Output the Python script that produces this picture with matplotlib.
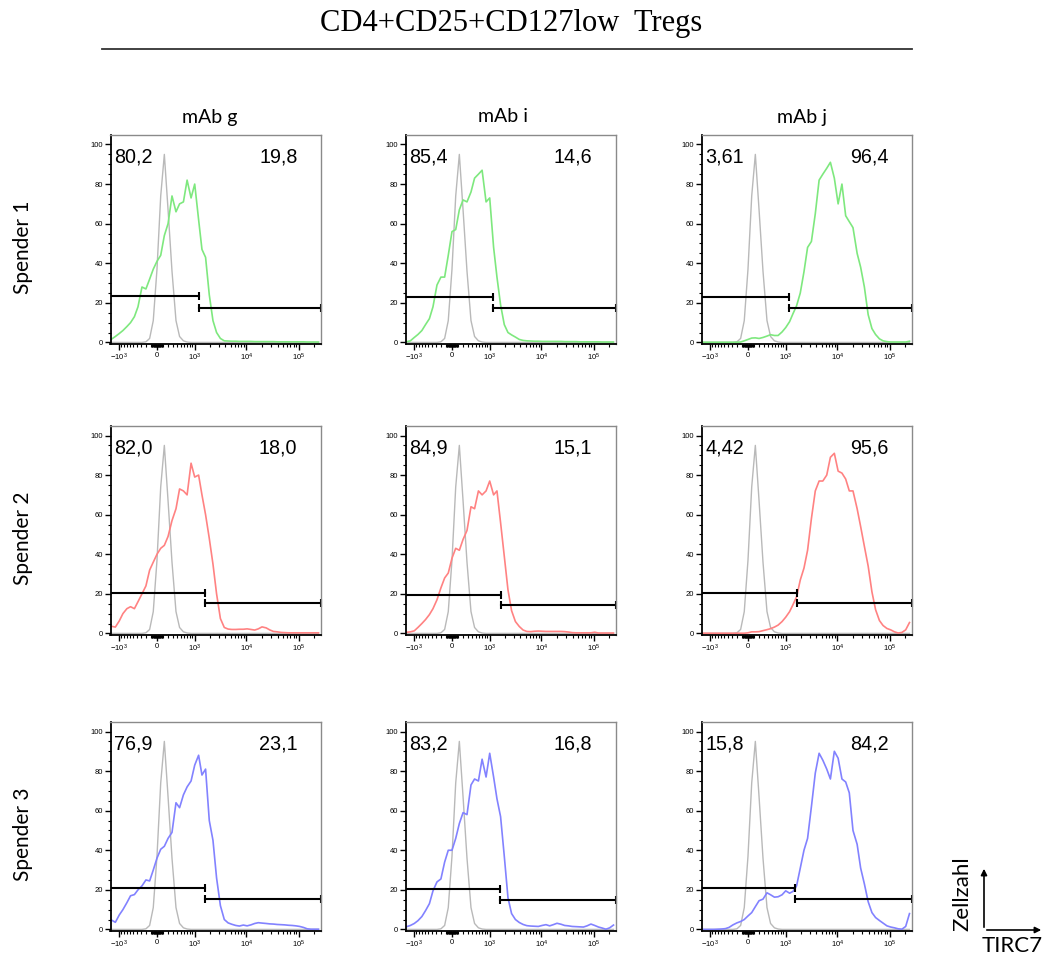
import numpy as np
import matplotlib.pyplot as plt
from matplotlib.lines import Line2D
from matplotlib.patches import FancyArrowPatch
from matplotlib.ticker import FixedLocator, NullFormatter

plt.rcParams['font.family'] = ['Liberation Sans', 'DejaVu Sans']
plt.rcParams['mathtext.default'] = 'regular'

# Histogramm-Kanäle (TIRC7-Fluoreszenz)
bins = [-1500, -1200, -1000, -840, -690, -570, -460, -370, -280, -200, -130, -65,
        0, 65, 130, 200, 280, 370, 460, 570, 690, 840, 1000,
        1200, 1400, 1650, 1950, 2300, 2700, 3200, 3800, 4500, 5300, 6300, 7400,
        8800, 10400, 12300, 14500, 17000, 20000, 24000, 28000, 33000, 39000,
        46000, 54000, 64000, 75000, 89000, 105000, 124000, 146000, 172000,
        203000, 240000]

# Isotypkontrolle (grau)
isotype = [0, 0, 0, 0, 0, 0, 0, 0, 0, 0.3, 2, 11, 37, 74, 95, 67, 36, 11, 3, 0.8,
           0.2, 0, 0, 0, 0, 0, 0, 0, 0, 0, 0, 0, 0, 0, 0, 0, 0, 0, 0, 0, 0, 0,
           0, 0, 0, 0, 0, 0, 0, 0, 0, 0, 0, 0, 0, 0]

# Spender 1
g1 = [1.3, 3, 4.5, 6, 8, 10, 13, 18, 28, 27, 32, 37, 41, 44, 54, 60, 74, 66, 70, 71,
      82, 73, 80, 62, 47, 43, 24, 11, 5, 2, 0.8, 0.7, 0.6, 0.6, 0.5, 0.5, 0.5, 0.5,
      0.4, 0.4, 0.4, 0.4, 0.4, 0.4, 0.3, 0.3, 0.3, 0.3, 0.3, 0.3, 0.3, 0.3, 0.2,
      0.2, 0.2, 0.2]
i1 = [0.2, 0.8, 2.5, 4, 6, 9, 12, 18, 29, 33, 33, 44, 56, 57, 67, 72, 71, 76, 83, 85,
      87, 71, 73, 48, 33, 19, 9, 5, 3.8, 2.7, 1.5, 1, 0.8, 0.7, 0.6, 0.6, 0.5, 0.5,
      0.5, 0.5, 0.5, 0.5, 0.4, 0.4, 0.4, 0.4, 0.3, 0.3, 0.3, 0.3, 0.3, 0.3, 0.2,
      0.2, 0.2, 0.2]
j1 = [0.1, 0.1, 0.1, 0.1, 0.1, 0.1, 0.1, 0.1, 0.1, 0.1, 0.2, 0.8, 1.5, 2.2, 2.3, 2,
      2.5, 3.2, 3.9, 3.5, 3.5, 5.3, 7.5, 10.5, 14.5, 18.5, 25, 35.7, 48, 51, 65, 82,
      85, 88, 91, 83, 70, 80, 64, 61, 58, 45, 38, 28, 14, 7, 4, 1.8, 0.8, 0.4, 0.2,
      0.2, 0.2, 0.2, 0.2, 0.6]

# Spender 2
g2 = [3.7, 3.2, 6.3, 10, 12.5, 13.5, 12.5, 16, 20, 24, 32, 36, 40, 43, 44.5, 49, 57,
      63, 73, 72, 70, 86, 79, 80, 70, 60, 48, 35, 20, 7.5, 3, 2.2, 2, 2, 2.1, 2.1,
      2.3, 2, 1.7, 2.3, 3.3, 2.8, 1.8, 1, 0.8, 0.5, 0.4, 0.3, 0.3, 0.3, 0.3, 0.3,
      0.3, 0.3, 0.3, 0.3]
i2 = [0.5, 0.8, 1.3, 3, 5, 7, 9.5, 12.5, 17, 23, 28, 30.5, 38, 43, 42, 47.5, 52, 64,
      63, 72, 70, 72, 77, 70, 72, 56, 39, 22, 11.5, 6, 3.5, 1.7, 1, 0.9, 1.1, 1.2,
      1.1, 1, 1, 1, 1, 1, 0.9, 0.7, 0.4, 0.3, 0.3, 0.3, 0.3, 0.3, 0.6, 0.2, 0.2,
      0.2, 0.2, 0.2]
j2 = [0.1, 0.1, 0.1, 0.1, 0.1, 0.1, 0.1, 0.1, 0.1, 0.1, 0.1, 0.1, 0.3, 0.8, 0.8, 0.9,
      1.4, 1.9, 2.4, 3.2, 4.2, 6, 8.2, 11, 14.5, 18.5, 27, 33, 42, 58, 72, 77, 77,
      80, 89, 91, 82, 81, 78, 72, 72, 63, 54, 44, 34, 21, 12, 6.5, 4, 2.5, 1.8, 0.8,
      0.2, 0.5, 1.8, 5.5]

# Spender 3
g3 = [5, 3.6, 7.3, 10, 13.5, 17, 17.6, 20, 22, 25, 24.5, 30, 36, 40.5, 42, 46, 49,
      64, 61.5, 68, 72, 75, 83, 88, 78, 81, 55, 45, 26, 12, 5, 3.3, 2.6, 2, 1.7, 2.2,
      1.8, 2.3, 3, 3.4, 3.2, 3, 2.8, 2.7, 2.5, 2.4, 2.3, 2.1, 2, 1.8, 1.5, 1, 0.3,
      0.1, 0.1, 0.1]
i3 = [1.2, 2, 3, 4.4, 6.5, 9.5, 13, 19.5, 24, 25.5, 34, 40, 40, 46, 53.5, 59, 58, 73,
      76, 75, 86, 77, 89, 77, 66, 57, 37, 16, 8, 5, 3.5, 2.5, 1.9, 1.7, 1.6, 1.5, 2,
      2.4, 1.8, 2.4, 3.1, 2.6, 2, 1.8, 1.5, 1.4, 1.3, 1.2, 1.8, 2.7, 2, 1.2, 0.7,
      0.1, 0.8, 2.2]
j3 = [0, 0, 0, 0, 0.1, 0.2, 0.4, 1, 2.3, 3.3, 4, 5, 6.8, 8.5, 11.5, 14.5, 15.3, 18.5,
      17.5, 16.3, 16.5, 17.5, 19.5, 18.3, 19.2, 22, 31, 40, 46, 62, 79, 89, 85.5, 81,
      76, 90, 86.5, 76, 74.5, 69, 50, 43, 31, 23, 14, 8.5, 6, 4.5, 3.2, 1.8, 1.2,
      0.8, 0.3, 0.1, 1.5, 8]

curves = [[g1, i1, j1], [g2, i2, j2], [g3, i3, j3]]

donors = ['Spender 1', 'Spender 2', 'Spender 3']
antibodies = ['mAb g', 'mAb i', 'mAb j']
colors = ['#7ee87e', '#ff8282', '#8282ff']

# Gates: Grenze, Höhe negativer / positiver Gate
gate_cut = [[1200, 1180, 1180], [1620, 1650, 1650], [1620, 1600, 1550]]
gate_low = [[23.2, 22.7, 22.7], [20.4, 19.5, 20.2], [20.7, 20.3, 20.7]]
gate_high = [[17.3, 17.4, 17.6], [15.2, 14.4, 15.2], [15.5, 14.7, 15.2]]
pct_neg = [[80.2, 85.4, 3.61], [82.0, 84.9, 4.42], [76.9, 83.2, 15.8]]
pct_pos = [[19.8, 14.6, 96.4], [18.0, 15.1, 95.6], [23.1, 16.8, 84.2]]

x_major = [-1000, 0, 1000, 10000, 100000]
x_labels = ['$-10^{3}$', '0', '$10^{3}$', '$10^{4}$', '$10^{5}$']
x_minor = ([-k * 100 for k in range(2, 10)] + [-k * 10 for k in range(1, 11)]
           + [k * 10 for k in range(1, 11)] + [k * 100 for k in range(2, 10)]
           + [k * 1000 for k in range(2, 10)] + [k * 10000 for k in range(2, 10)]
           + [200000])
XMIN, XMAX = -1500, 262144


def fwd(x):
    return np.arcsinh(np.asarray(x, dtype=float) / 395.0)


def inv(y):
    return 395.0 * np.sinh(y)


def fmt(v):
    return f"{v:#.3g}".replace('.', ',')


W, H = 1045, 960
fig = plt.figure(figsize=(W / 100, H / 100), dpi=100)

lefts = [110.5, 405.5, 701.5]
tops = [135, 426, 722]
aw, ah = 210, 209
sans = ['Lato', 'DejaVu Sans']

for r in range(3):
    for c in range(3):
        ax = fig.add_axes([lefts[c] / W, 1 - (tops[r] + ah) / H, aw / W, ah / H])
        ax.set_xscale('function', functions=(fwd, inv))
        ax.plot(bins, isotype, color='#b9b9b9', lw=1.0)
        ax.plot(bins, curves[r][c], color=colors[r], lw=1.2)

        cut = gate_cut[r][c]
        lo = gate_low[r][c]
        hi = gate_high[r][c]
        ax.plot([XMIN, cut], [lo, lo], color='k', lw=1.5)
        ax.plot([cut, XMAX], [hi, hi], color='k', lw=1.5)
        ax.plot([cut, cut, XMAX], [lo, hi, hi], ls='none', marker='|', ms=6,
                mew=1.5, color='k', clip_on=False)

        ax.text(0.017, 0.893, fmt(pct_neg[r][c]), transform=ax.transAxes,
                ha='left', va='center', fontsize=14.2)
        ax.text(0.89, 0.893, fmt(pct_pos[r][c]), transform=ax.transAxes,
                ha='right', va='center', fontsize=14.2)

        ax.set_xlim(XMIN, XMAX)
        ax.set_ylim(-0.8, 104.8)
        ax.xaxis.set_major_locator(FixedLocator(x_major))
        ax.set_xticklabels(x_labels)
        ax.xaxis.set_minor_locator(FixedLocator(x_minor))
        ax.xaxis.set_minor_formatter(NullFormatter())
        ax.set_yticks([0, 20, 40, 60, 80, 100])
        ax.set_yticks(np.arange(0, 101, 5), minor=True)
        ax.tick_params(which='major', length=4, width=1, labelsize=5.5, pad=1.5)
        ax.tick_params(which='minor', length=2.2, width=0.8)

        for s in ('left', 'bottom'):
            ax.spines[s].set_color('k')
            ax.spines[s].set_linewidth(1.3)
        for s in ('top', 'right'):
            ax.spines[s].set_color('#8a8a8a')
            ax.spines[s].set_linewidth(1.0)

# Spaltenköpfe und Spender
head_x = [210, 503, 802]
for c in range(3):
    fig.text(head_x[c] / W, 1 - 117 / H, antibodies[c], ha='center',
             va='center', fontsize=14, family=sans)
for r in range(3):
    fig.text(23 / W, 1 - (tops[r] + ah / 2 + 8) / H, donors[r], rotation=90,
             ha='center', va='center', fontsize=15, family=sans)

fig.text(511 / W, 1 - 23 / H, 'CD4+CD25+CD127low  Tregs', ha='center',
         va='center', fontsize=22, family=['Liberation Serif', 'DejaVu Serif'])
fig.add_artist(Line2D([102 / W, 912 / W], [1 - 49 / H, 1 - 49 / H],
                      color='#333333', lw=1.3))

# Achsenlegende unten rechts
fig.add_artist(FancyArrowPatch((984 / W, 1 - 930 / H), (984 / W, 1 - 866 / H),
                               transform=fig.transFigure, arrowstyle='-|>',
                               mutation_scale=9, lw=1.2, color='k'))
fig.add_artist(FancyArrowPatch((984 / W, 1 - 930 / H), (1044 / W, 1 - 930 / H),
                               transform=fig.transFigure, arrowstyle='-|>',
                               mutation_scale=9, lw=1.2, color='k'))
fig.text(962 / W, 1 - 894 / H, 'Zellzahl', rotation=90, ha='center', va='center',
         fontsize=16, family=sans)
fig.text(1012 / W, 1 - 946 / H, 'TIRC7', ha='center', va='center',
         fontsize=16, family=sans)

fig.savefig('out.png', dpi=100)
